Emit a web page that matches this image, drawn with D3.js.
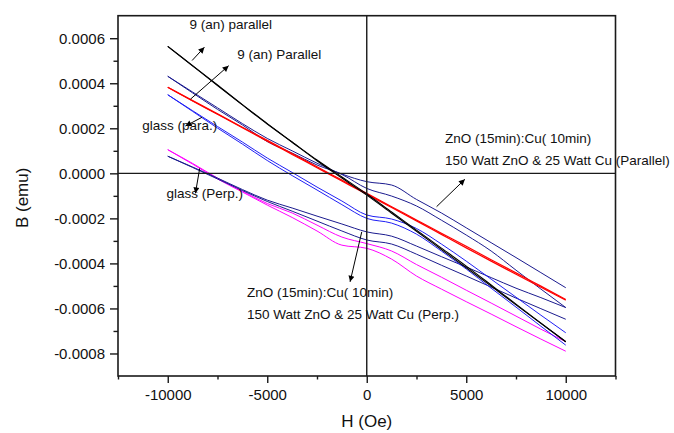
<!DOCTYPE html>
<html>
<head>
<meta charset="utf-8">
<script src="https://cdn.jsdelivr.net/npm/d3@7"></script>
<style>
  html, body { margin: 0; padding: 0; background: #fff; }
  svg { display: block; font-family: "Liberation Sans", Arial, Helvetica, sans-serif; }
</style>
</head>
<body>
<svg id="chart" width="674" height="433"></svg>
<script>
// Applied field H (Oe) at which each loop branch is sampled
const fieldOe = [-10000, -8750, -7500, -6250, -5000, -3750, -2500, -1250, 0,
                 1250, 2500, 3750, 5000, 6250, 7500, 8750, 10000];

// Moment B (emu), two branches per sample (sweep down / sweep up)
const annealedParA = [0.000564, 0.000477, 0.000390, 0.000304, 0.000219, 0.000139, 0.000059, -0.000016, -0.000092,
                      -0.000172, -0.000252, -0.000332, -0.000412, -0.000496, -0.000581, -0.000665, -0.000748];
const annealedParB = [0.000564, 0.000478, 0.000392, 0.000305, 0.000221, 0.000138, 0.000056, -0.000021, -0.000097,
                      -0.000177, -0.000257, -0.000338, -0.000419, -0.000501, -0.000584, -0.000666, -0.000748];

const redParA = [0.000382, 0.000323, 0.000264, 0.000205, 0.000147, 0.000088, 0.000029, -0.000030, -0.000089,
                 -0.000148, -0.000207, -0.000266, -0.000324, -0.000384, -0.000442, -0.000501, -0.000560];
const redParB = [0.000382, 0.000321, 0.000262, 0.000202, 0.000143, 0.000084, 0.000025, -0.000034, -0.000093,
                 -0.000152, -0.000211, -0.000271, -0.000331, -0.000390, -0.000448, -0.000506, -0.000563];

const znoParA = [0.000431, 0.000361, 0.000291, 0.000221, 0.000155, 0.000100, 0.000045, -0.000003, -0.000037,
                 -0.000052, -0.000116, -0.000176, -0.000242, -0.000308, -0.000374, -0.000441, -0.000508];
const znoParB = [0.000431, 0.000357, 0.000284, 0.000215, 0.000141, 0.000090, 0.000037, -0.000005, -0.000067,
                 -0.000101, -0.000145, -0.000208, -0.000274, -0.000345, -0.000430, -0.000514, -0.000596];

const glassParA = [0.000349, 0.000278, 0.000208, 0.000139, 0.000068, 0.000004, -0.000061, -0.000123, -0.000185,
                   -0.000203, -0.000245, -0.000314, -0.000390, -0.000470, -0.000550, -0.000630, -0.000708];
const glassParB = [0.000349, 0.000275, 0.000201, 0.000130, 0.000057, -0.000010, -0.000074, -0.000139, -0.000200,
                   -0.000221, -0.000270, -0.000345, -0.000425, -0.000510, -0.000594, -0.000679, -0.000763];

const perpNavyA = [0.000076, 0.000028, -0.000021, -0.000072, -0.000119, -0.000154, -0.000190, -0.000225, -0.000260,
                   -0.000279, -0.000323, -0.000370, -0.000416, -0.000463, -0.000510, -0.000552, -0.000596];
const perpNavyB = [0.000076, 0.000026, -0.000025, -0.000076, -0.000125, -0.000168, -0.000212, -0.000256, -0.000296,
                   -0.000314, -0.000359, -0.000408, -0.000456, -0.000505, -0.000554, -0.000601, -0.000648];

const perpMagA = [0.000105, 0.000044, -0.000021, -0.000079, -0.000134, -0.000176, -0.000230, -0.000283, -0.000312,
                  -0.000345, -0.000405, -0.000461, -0.000519, -0.000576, -0.000634, -0.000692, -0.000748];
const perpMagB = [0.000105, 0.000041, -0.000025, -0.000083, -0.000141, -0.000196, -0.000256, -0.000319, -0.000333,
                  -0.000381, -0.000456, -0.000514, -0.000570, -0.000625, -0.000681, -0.000736, -0.000790];

// Axis ticks
const xMajor = [-10000, -5000, 0, 5000, 10000];
const xMinor = [-12500, -7500, -2500, 2500, 7500, 12500];
const yMajor = [0.0006, 0.0004, 0.0002, 0, -0.0002, -0.0004, -0.0006, -0.0008];
const yMinor = [0.0005, 0.0003, 0.0001, -0.0001, -0.0003, -0.0005, -0.0007];

// Annotations: label text with anchor (H, B); arrows as tail -> head in (H, B)
const labelText = ["9 (an) parallel", "9 (an) Parallel", "glass (para.)", "glass (Perp.)",
                   "ZnO (15min):Cu( 10min)", "150 Watt ZnO & 25 Watt Cu (Parallel)",
                   "ZnO (15min):Cu( 10min)", "150 Watt ZnO & 25 Watt Cu (Perp.)"];
const labelH = [-8912, -6505, -11284, -10065, 3927, 3927, -6018, -6018];
const labelB = [0.000640, 0.000507, 0.000191, -0.000111, 0.000136, 0.0000369, -0.000548, -0.000648];

const arrowTailH = [-8776, -8862, -8275, -8395, 3510, -251];
const arrowTailB = [0.000501, 0.000329, 0.000249, 0.000022, -0.000148, -0.000260];
const arrowHeadH = [-8159, -6940, -9112, -8611, 4930, -838];
const arrowHeadB = [0.000560, 0.000478, 0.000210, -0.0000889, -0.0000267, -0.000482];

const series = [
  { a: perpMagA,     b: perpMagB,     color: "#ff00ff", w: 1.0 },
  { a: perpNavyA,    b: perpNavyB,    color: "#1b1b8f", w: 1.0 },
  { a: glassParA,    b: glassParB,    color: "#1f1ff5", w: 1.0 },
  { a: znoParA,      b: znoParB,      color: "#1b1b8f", w: 1.0 },
  { a: redParA,      b: redParB,      color: "#ff0000", w: 1.2 },
  { a: annealedParA, b: annealedParB, color: "#000000", w: 1.1 }
];

const svg = d3.select("#chart");
const x = d3.scaleLinear().domain([-12500, 12500]).range([118, 615.5]);
const y = d3.scaleLinear().domain([-0.0009, 0.0007]).range([376, 15.7]);

const frameColor = "#1a1a1a";

// Curves
const line = d3.line()
  .x((d, i) => x(fieldOe[i]))
  .y(d => y(d))
  .curve(d3.curveMonotoneX);
const gLines = svg.append("g").attr("fill", "none");
series.forEach(s => {
  [s.a, s.b].forEach(branch => {
    gLines.append("path")
      .attr("d", line(branch))
      .attr("stroke", s.color)
      .attr("stroke-width", s.w)
      .attr("stroke-linejoin", "round");
  });
});

// Zero cross lines
svg.append("line")
  .attr("x1", x(0)).attr("x2", x(0))
  .attr("y1", y(0.0007)).attr("y2", y(-0.0009))
  .attr("stroke", frameColor).attr("stroke-width", 1.4);
svg.append("line")
  .attr("x1", x(-12500)).attr("x2", x(12500))
  .attr("y1", y(0)).attr("y2", y(0))
  .attr("stroke", frameColor).attr("stroke-width", 1.4);

// Axes
const xAxis = svg.append("g")
  .attr("transform", `translate(0,${y(-0.0009)})`)
  .call(d3.axisBottom(x).tickValues(xMajor).tickSize(7).tickPadding(6).tickFormat(d => String(d)));
const xAxisMinor = svg.append("g")
  .attr("transform", `translate(0,${y(-0.0009)})`)
  .call(d3.axisBottom(x).tickValues(xMinor).tickSize(3.5).tickFormat(""));
const yAxis = svg.append("g")
  .attr("transform", `translate(${x(-12500)},0)`)
  .call(d3.axisLeft(y).tickValues(yMajor).tickSize(8).tickPadding(5).tickFormat(d => d.toFixed(4)));
const yAxisMinor = svg.append("g")
  .attr("transform", `translate(${x(-12500)},0)`)
  .call(d3.axisLeft(y).tickValues(yMinor).tickSize(4.5).tickFormat(""));

[xAxis, xAxisMinor, yAxis, yAxisMinor].forEach(g => {
  g.select(".domain").remove();
  g.selectAll(".tick line").attr("stroke", frameColor).attr("stroke-width", 1.4);
  g.selectAll(".tick text")
    .attr("fill", "#111")
    .style("font-size", "15px")
    .style("font-family", "'Liberation Sans', Arial, sans-serif");
});

// Frame
svg.append("rect")
  .attr("x", x(-12500)).attr("y", y(0.0007))
  .attr("width", x(12500) - x(-12500))
  .attr("height", y(-0.0009) - y(0.0007))
  .attr("fill", "none")
  .attr("stroke", frameColor)
  .attr("stroke-width", 1.6);

// Axis titles
svg.append("text")
  .attr("x", x(0)).attr("y", 427)
  .attr("text-anchor", "middle")
  .style("font-size", "17px")
  .attr("fill", "#111")
  .text("H (Oe)");
svg.append("text")
  .attr("transform", `translate(27.5,${(y(0.0007) + y(-0.0009)) / 2 + 2}) rotate(-90)`)
  .attr("text-anchor", "middle")
  .style("font-size", "17px")
  .attr("fill", "#111")
  .text("B (emu)");

// Arrow head marker
svg.append("defs").append("marker")
  .attr("id", "arrowhead")
  .attr("viewBox", "0 0 10 10")
  .attr("refX", 10).attr("refY", 5)
  .attr("markerWidth", 9).attr("markerHeight", 6)
  .attr("markerUnits", "userSpaceOnUse")
  .attr("orient", "auto")
  .append("path")
  .attr("d", "M0,0L10,5L0,10Z")
  .attr("fill", "#000");

const gAnno = svg.append("g");
arrowTailH.forEach((h, i) => {
  gAnno.append("line")
    .attr("x1", x(h)).attr("y1", y(arrowTailB[i]))
    .attr("x2", x(arrowHeadH[i])).attr("y2", y(arrowHeadB[i]))
    .attr("stroke", "#000")
    .attr("stroke-width", 1)
    .attr("marker-end", "url(#arrowhead)");
});

labelText.forEach((t, i) => {
  gAnno.append("text")
    .attr("x", x(labelH[i])).attr("y", y(labelB[i]))
    .style("font-size", "13.5px")
    .attr("fill", "#111")
    .text(t);
});
</script>
</body>
</html>
